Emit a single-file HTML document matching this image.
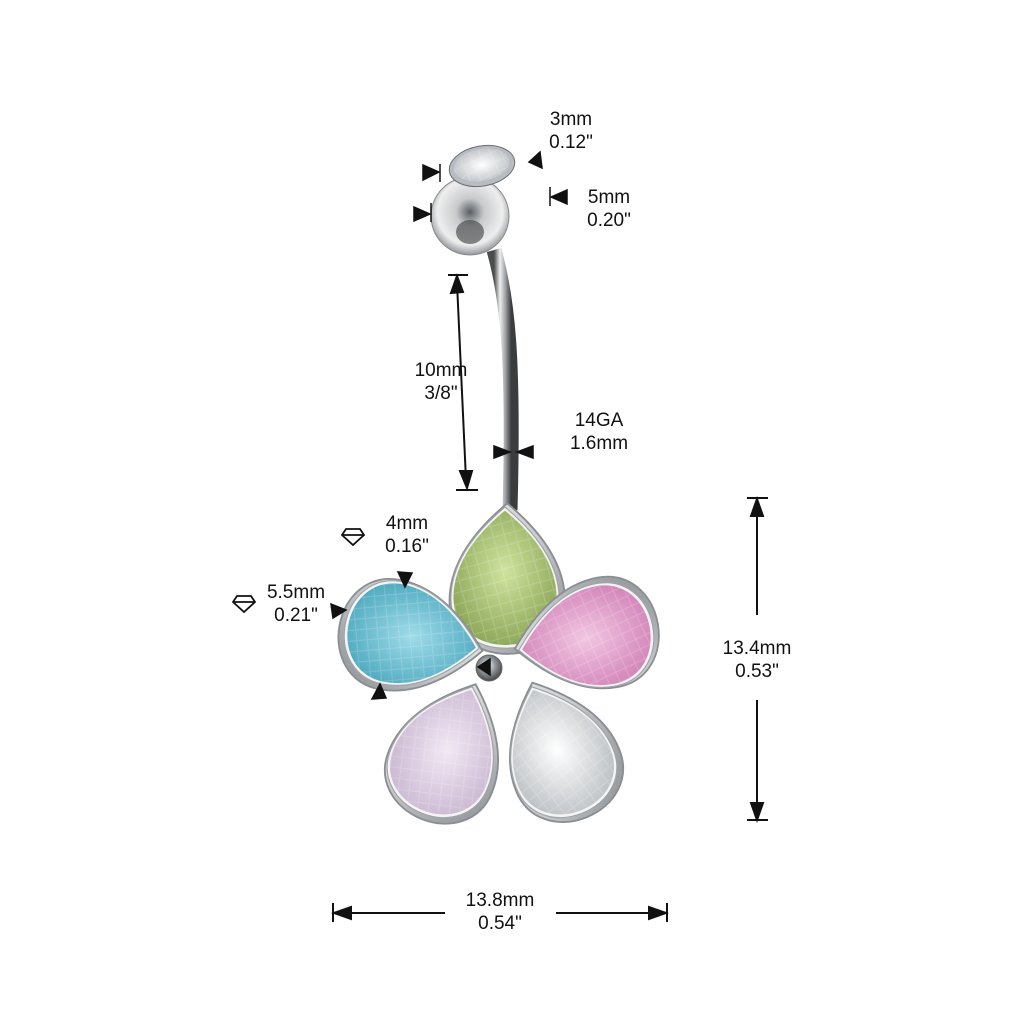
<!DOCTYPE html>
<html><head><meta charset="utf-8"><style>
html,body{margin:0;padding:0;background:#fff}
svg{display:block}
text{font-family:"Liberation Sans",sans-serif;font-size:19px;fill:#111;text-anchor:middle}
</style></head><body>
<svg width="1024" height="1024" viewBox="0 0 1024 1024" xmlns="http://www.w3.org/2000/svg">
<defs>
<radialGradient id="ball" cx="50%" cy="45%" r="60%"><stop offset="0" stop-color="#5a5e62"/><stop offset="0.3" stop-color="#c8cacc"/><stop offset="0.7" stop-color="#eeeeee"/><stop offset="0.9" stop-color="#9a9ea2"/><stop offset="1" stop-color="#d8dadc"/></radialGradient>
<radialGradient id="ball2" cx="45%" cy="40%" r="65%"><stop offset="0" stop-color="#f4f4f4"/><stop offset="0.5" stop-color="#8a8e92"/><stop offset="1" stop-color="#3a3c3e"/></radialGradient>
<linearGradient id="bar" x1="0" x2="1"><stop offset="0" stop-color="#4a4c4e"/><stop offset="0.35" stop-color="#eeeeee"/><stop offset="0.65" stop-color="#a0a4a8"/><stop offset="1" stop-color="#3a3c3e"/></linearGradient>
<radialGradient id="g" cx="50%" cy="45%" r="60%"><stop offset="0" stop-color="#cfe39e"/><stop offset="1" stop-color="#8aa455"/></radialGradient>
<radialGradient id="p" cx="50%" cy="50%" r="60%"><stop offset="0" stop-color="#f2c6e2"/><stop offset="1" stop-color="#d080b6"/></radialGradient>
<radialGradient id="b" cx="50%" cy="50%" r="60%"><stop offset="0" stop-color="#9fdcea"/><stop offset="1" stop-color="#4aa6bc"/></radialGradient>
<radialGradient id="l" cx="50%" cy="50%" r="60%"><stop offset="0" stop-color="#f2e8f4"/><stop offset="1" stop-color="#c8b6d0"/></radialGradient>
<radialGradient id="c" cx="50%" cy="50%" r="60%"><stop offset="0" stop-color="#ffffff"/><stop offset="1" stop-color="#b8bcc0"/></radialGradient>
<linearGradient id="bz" x1="0" y1="0" x2="1" y2="1"><stop offset="0" stop-color="#f0f0f0"/><stop offset="0.5" stop-color="#c8cacc"/><stop offset="1" stop-color="#8a8e92"/></linearGradient>
<path id="drop" d="M0,-62 C24,-42 46,-16 46,16 C46,42 25,58 0,58 C-25,58 -46,42 -46,16 C-46,-16 -24,-42 0,-62 Z"/>
<g id="pet">
<use href="#drop" fill="url(#bz)" stroke="#8a8e92" stroke-width="1.5" transform="translate(2,1) scale(1.12)"/>
<use href="#drop" fill="#f4f4f4" stroke="#a0a4a8" stroke-width="1" transform="scale(1.05)"/>
</g>
<pattern id="fac" width="14" height="14" patternUnits="userSpaceOnUse" patternTransform="rotate(30)"><path d="M0,0 L14,14 M14,0 L0,14" stroke="#fff" stroke-width="1" opacity=".18"/></pattern>
</defs>

<!-- bar -->
<path d="M494,250 C508,300 514,360 510,510" stroke="url(#bar)" stroke-width="15" fill="none"/>

<!-- ball -->
<circle cx="470" cy="216" r="39" fill="url(#ball)" stroke="#888" stroke-width="1"/>
<ellipse cx="470" cy="232" rx="14" ry="12" fill="#3a3c3e" opacity=".6"/>
<g transform="rotate(-10 482 166)">
<ellipse cx="482" cy="166" rx="33" ry="20" fill="#b8bcc0" stroke="#6a6e72"/>
<ellipse cx="482" cy="165" rx="28" ry="16" fill="url(#c)"/>
<ellipse cx="482" cy="165" rx="28" ry="16" fill="url(#fac)"/>
</g>

<!-- flower petals -->
<g transform="translate(505,580) scale(1.12)"><use href="#pet"/><use href="#drop" fill="url(#g)"/><use href="#drop" fill="url(#fac)"/></g>
<g transform="translate(588,638) rotate(-100) scale(1.08)"><use href="#pet"/><use href="#drop" fill="url(#p)"/><use href="#drop" fill="url(#fac)"/></g>
<g transform="translate(410,636) rotate(100) scale(1.08)"><use href="#pet"/><use href="#drop" fill="url(#b)"/><use href="#drop" fill="url(#fac)"/></g>
<g transform="translate(446,752) rotate(22) scale(1.08)"><use href="#pet"/><use href="#drop" fill="url(#l)"/><use href="#drop" fill="url(#fac)"/></g>
<g transform="translate(558,752) rotate(-22) scale(1.08)"><use href="#pet"/><use href="#drop" fill="url(#c)"/><use href="#drop" fill="url(#fac)"/></g>
<circle cx="489" cy="668" r="13" fill="url(#ball2)" stroke="#666"/>

<!-- dimension lines -->
<g stroke="#111" stroke-width="2" fill="#111">
<line x1="448" y1="275" x2="468" y2="275"/>
<line x1="457" y1="283" x2="466" y2="480"/>
<polygon points="457,276 451,293 463,292"/>
<polygon points="467,488 460,471 472,471"/>
<line x1="456" y1="490" x2="478" y2="490"/>
<line x1="747" y1="498" x2="768" y2="498"/>
<line x1="757" y1="505" x2="757" y2="615"/>
<line x1="757" y1="700" x2="757" y2="815"/>
<polygon points="757,499 751,516 763,516"/>
<polygon points="757,820 751,803 763,803"/>
<line x1="747" y1="820" x2="768" y2="820"/>
<line x1="333" y1="903" x2="333" y2="922"/>
<line x1="340" y1="913" x2="445" y2="913"/>
<line x1="556" y1="913" x2="660" y2="913"/>
<line x1="667" y1="903" x2="667" y2="922"/>
<polygon points="334,913 351,907 351,919"/>
<polygon points="666,913 649,907 649,919"/>
</g>
<!-- small arrowheads -->
<g fill="#111" stroke="#111" stroke-width="1.5">
<polygon points="439,172 423,165 423,180"/><line x1="440" y1="164" x2="440" y2="182"/>
<polygon points="529,162 540,152 542,168"/>
<polygon points="430,214 414,207 414,221"/><line x1="431" y1="203" x2="431" y2="222"/>
<polygon points="551,197 567,190 567,204"/><line x1="550" y1="187" x2="550" y2="206"/>
<polygon points="510,452 494,446 494,458"/>
<polygon points="517,452 533,446 533,458"/>
<polygon points="405,587 398,572 412,573"/>
<polygon points="346,610 331,604 333,618"/>
<polygon points="478,667 490,659 490,675"/>
<polygon points="380,684 372,699 386,698"/>
</g>
<!-- diamond icons -->
<g stroke="#111" stroke-width="1.8" fill="none">
<path d="M346,529 L360,529 L364,535 L353,545 L342,535 Z M342,535 L364,535"/>
<path d="M237,596 L251,596 L255,602 L244,612 L233,602 Z M233,602 L255,602"/>
</g>

<text x="571" y="125">3mm</text><text x="571" y="148">0.12"</text>
<text x="609" y="203">5mm</text><text x="609" y="226">0.20"</text>
<text x="441" y="376">10mm</text><text x="441" y="399">3/8"</text>
<text x="599" y="426">14GA</text><text x="599" y="449">1.6mm</text>
<text x="407" y="529">4mm</text><text x="407" y="552">0.16"</text>
<text x="296" y="598">5.5mm</text><text x="296" y="621">0.21"</text>
<text x="757" y="654">13.4mm</text><text x="757" y="677">0.53"</text>
<text x="500" y="906">13.8mm</text><text x="500" y="929">0.54"</text>
</svg>
</body></html>
